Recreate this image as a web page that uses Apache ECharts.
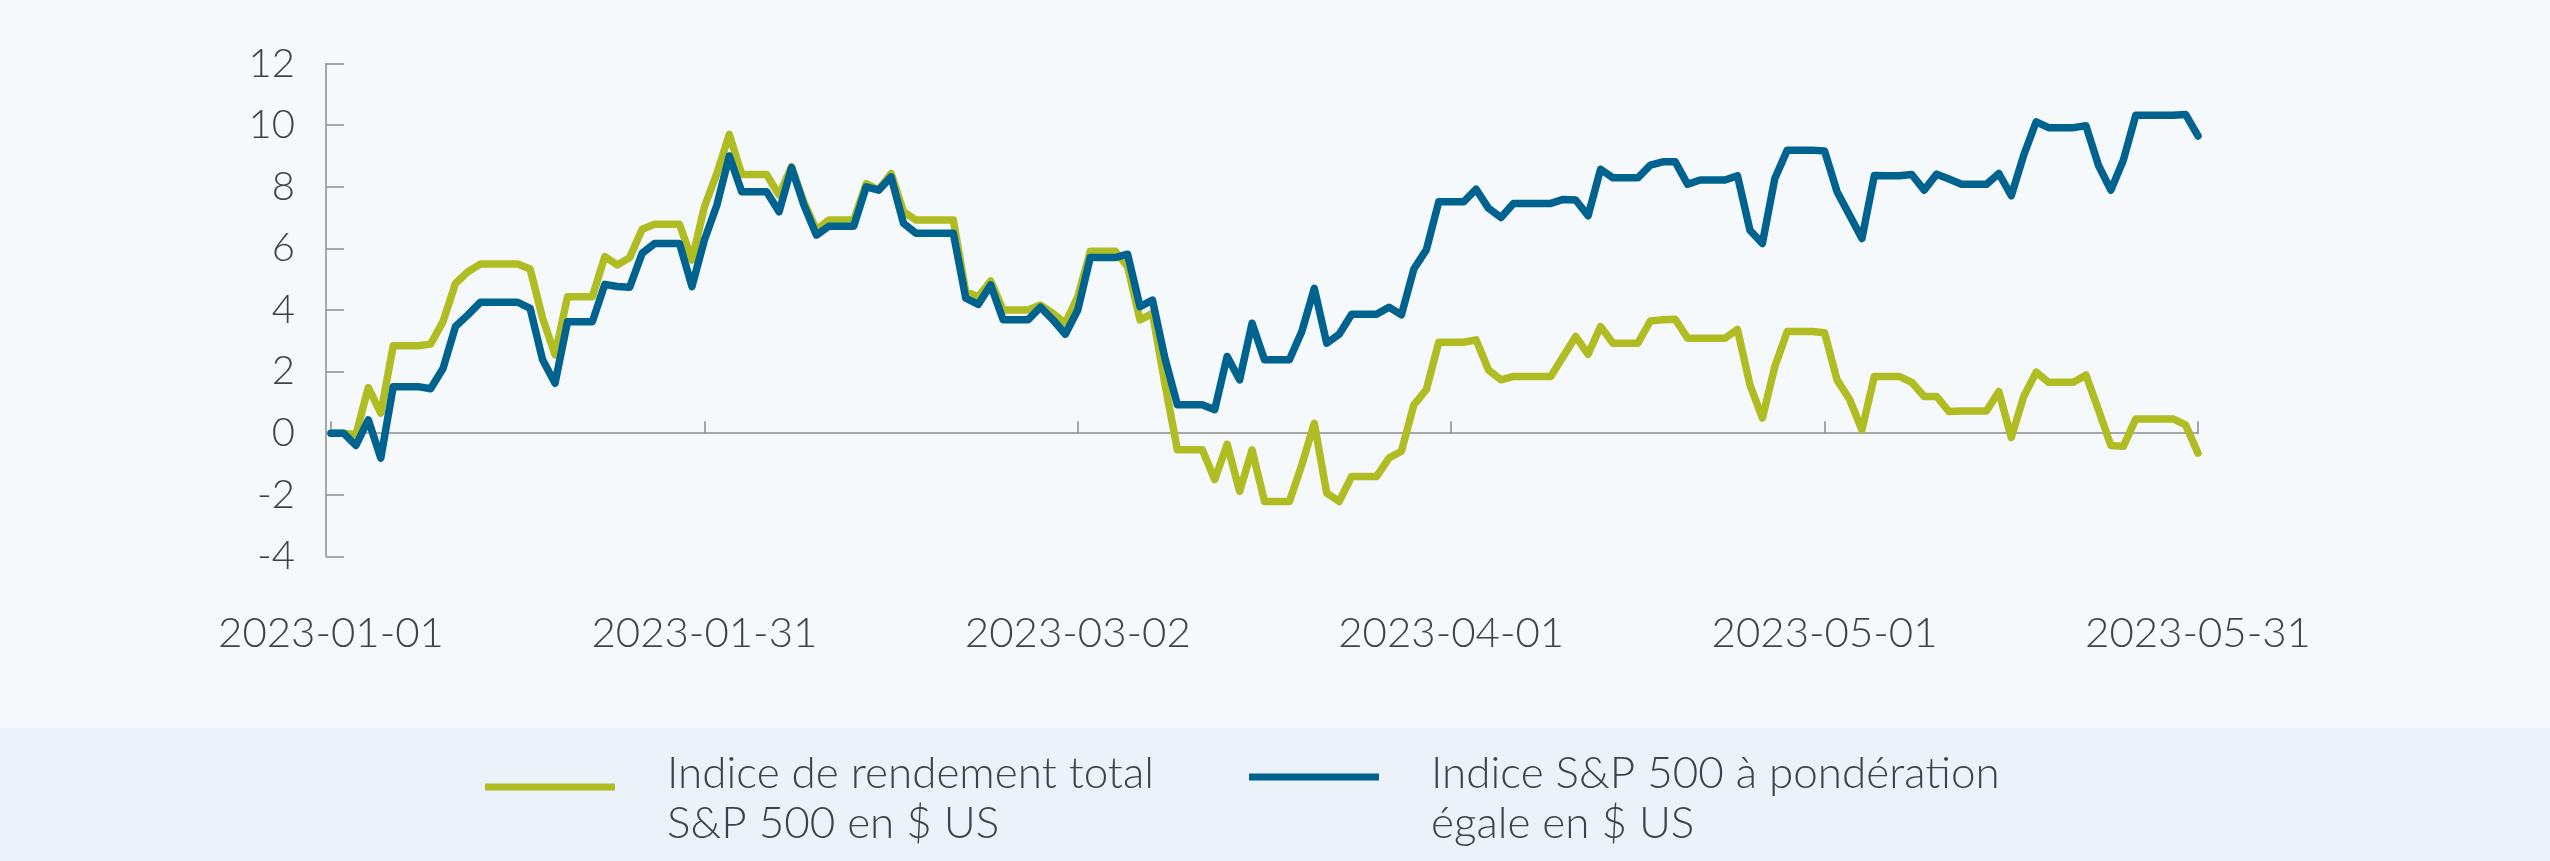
<!DOCTYPE html>
<html>
<head>
<meta charset="utf-8">
<title>Indice S&P 500</title>
<script src="https://cdn.jsdelivr.net/npm/echarts@6/dist/echarts.min.js"></script>
<style>
  html, body { margin: 0; padding: 0; background: #f5f9fc; }
  #chart { width: 2550px; height: 861px; }
</style>
</head>
<body>
<div id="chart"></div>
<script>
/* daily values, 2023-01-01 .. 2023-05-31 (weekends carry the last close) */
const startDate = '2023-01-01';
const dayCount = 151;

const totalReturnName = 'Indice de rendement total\nS&P 500 en $ US';
const equalWeightName = 'Indice S&P 500 à pondération\négale en $ US';

const totalReturn = [
  0, 0, -0.05, 1.48, 0.65, 2.84, 2.84, 2.84, 2.89, 3.62,
  4.86, 5.24, 5.49, 5.49, 5.49, 5.49, 5.33, 3.73, 2.54, 4.43,
  4.43, 4.43, 5.73, 5.46, 5.7, 6.62, 6.78, 6.78, 6.78, 5.62,
  7.35, 8.43, 9.7, 8.4, 8.4, 8.4, 7.73, 8.65, 7.5, 6.6,
  6.92, 6.92, 6.92, 8.1, 7.9, 8.43, 7.19, 6.92, 6.92, 6.92,
  6.92, 4.59, 4.43, 4.94, 4.0, 4.0, 4.0, 4.16, 3.89, 3.57,
  4.43, 5.91, 5.91, 5.91, 5.41, 3.68, 3.89, 1.6, -0.54, -0.54,
  -0.54, -1.51, -0.36, -1.89, -0.54, -2.22, -2.22, -2.22, -1.03, 0.32,
  -1.95, -2.22, -1.41, -1.41, -1.41, -0.81, -0.59, 0.92, 1.41, 2.95,
  2.95, 2.95, 3.03, 2.05, 1.73, 1.84, 1.84, 1.84, 1.84, 2.49,
  3.14, 2.56, 3.46, 2.92, 2.92, 2.92, 3.64, 3.68, 3.7, 3.08,
  3.08, 3.08, 3.08, 3.37, 1.57, 0.49, 2.16, 3.3, 3.3, 3.3,
  3.26, 1.73, 1.1, 0.11, 1.84, 1.84, 1.84, 1.65, 1.19, 1.19,
  0.7, 0.72, 0.72, 0.72, 1.35, -0.14, 1.19, 1.98, 1.65, 1.65,
  1.65, 1.89, 0.76, -0.4, -0.43, 0.46, 0.46, 0.46, 0.46, 0.27,
  -0.65
];

const equalWeight = [
  0, 0, -0.4, 0.43, -0.81, 1.51, 1.51, 1.51, 1.44, 2.1,
  3.46, 3.84, 4.25, 4.25, 4.25, 4.25, 4.05, 2.38, 1.62, 3.62,
  3.62, 3.62, 4.83, 4.76, 4.74, 5.84, 6.16, 6.16, 6.16, 4.76,
  6.27, 7.4, 9.0, 7.84, 7.84, 7.84, 7.19, 8.62, 7.4, 6.43,
  6.72, 6.72, 6.72, 8.0, 7.89, 8.32, 6.81, 6.49, 6.49, 6.49,
  6.49, 4.38, 4.18, 4.81, 3.68, 3.68, 3.68, 4.09, 3.68, 3.21,
  4.0, 5.7, 5.7, 5.7, 5.81, 4.11, 4.32, 2.43, 0.92, 0.92,
  0.92, 0.76, 2.49, 1.73, 3.57, 2.38, 2.38, 2.38, 3.3, 4.7,
  2.92, 3.21, 3.86, 3.86, 3.86, 4.09, 3.84, 5.33, 5.95, 7.51,
  7.51, 7.51, 7.92, 7.3, 7.0, 7.46, 7.46, 7.46, 7.46, 7.59,
  7.57, 7.06, 8.57, 8.29, 8.29, 8.29, 8.7, 8.81, 8.81, 8.08,
  8.22, 8.22, 8.22, 8.36, 6.59, 6.16, 8.27, 9.19, 9.19, 9.19,
  9.16, 7.84, 7.08, 6.32, 8.37, 8.36, 8.36, 8.4, 7.89, 8.41,
  8.25, 8.08, 8.08, 8.08, 8.43, 7.71, 9.03, 10.11, 9.92, 9.92,
  9.92, 9.98, 8.7, 7.89, 8.86, 10.32, 10.32, 10.32, 10.32, 10.35,
  9.65
];

const yMin = -4;
const yMax = 12;
const yStep = 2;
const labelEvery = 30;

const green = '#afbd22';
const blue = '#00638f';
const textColor = '#3d4349';
const axisColor = '#8c8c8c';

/* one category per calendar day */
let dates = [];
let d = new Date(startDate + 'T00:00:00Z');
for (let i = 0; i < dayCount; i++) {
  dates.push(d.toISOString().slice(0, 10));
  d.setUTCDate(d.getUTCDate() + 1);
}

let chart = echarts.init(document.getElementById('chart'), null, { renderer: 'canvas' });

let option = {
  animation: false,
  backgroundColor: '#f5f9fc',
  textStyle: { fontFamily: 'Lato, "Open Sans", sans-serif', fontWeight: 300 },
  graphic: [{
    type: 'rect',
    left: 0,
    top: 728,
    silent: true,
    z: -10,
    shape: { width: 2550, height: 133 },
    style: { fill: '#ebf2f9' }
  }],
  grid: {
    left: 331,
    right: 352,
    top: 63.6,
    bottom: 304.7
  },
  legend: [{
    left: 485,
    top: 749,
    padding: 0,
    itemWidth: 130,
    itemHeight: 31,
    icon: 'path://M0,0H130V7H0Z M0,31H0.01',
    itemStyle: { borderWidth: 0 },
    data: [totalReturnName],
    textStyle: { color: textColor, fontSize: 44, fontWeight: 300, lineHeight: 50, padding: [0, 0, 0, 47] }
  }, {
    left: 1249,
    top: 749,
    padding: 0,
    itemWidth: 130,
    itemHeight: 51,
    icon: 'path://M0,0H130V7H0Z M0,51H0.01',
    itemStyle: { borderWidth: 0 },
    data: [equalWeightName],
    textStyle: { color: textColor, fontSize: 44, fontWeight: 300, lineHeight: 50, padding: [0, 0, 0, 47] }
  }],
  xAxis: [{
    // labels along the bottom
    type: 'category',
    data: dates,
    boundaryGap: false,
    position: 'bottom',
    axisLine: { show: false, onZero: false },
    axisTick: { show: false },
    splitLine: { show: false },
    axisLabel: {
      interval: labelEvery - 1,
      color: textColor,
      fontSize: 42,
      fontWeight: 300,
      margin: 56
    }
  }, {
    // zero line with its ticks
    type: 'category',
    data: dates,
    boundaryGap: false,
    position: 'top',
    axisLine: { onZero: true, lineStyle: { color: axisColor, width: 1.5 } },
    axisTick: { interval: labelEvery - 1, inside: false, length: 12, lineStyle: { color: axisColor, width: 1.5 } },
    axisLabel: { show: false },
    splitLine: { show: false }
  }],
  yAxis: {
    type: 'value',
    min: yMin,
    max: yMax,
    interval: yStep,
    offset: 5,
    axisLine: { show: true, lineStyle: { color: axisColor, width: 1.5 } },
    axisTick: { show: true, inside: true, length: 18, lineStyle: { color: axisColor, width: 1.5 } },
    splitLine: { show: false },
    axisLabel: { color: textColor, fontSize: 40, fontWeight: 300, margin: 31 }
  },
  series: [{
    name: totalReturnName,
    type: 'line',
    xAxisIndex: 0,
    data: totalReturn,
    symbol: 'none',
    itemStyle: { color: green },
    lineStyle: { color: green, width: 7.5, cap: 'round', join: 'round' }
  }, {
    name: equalWeightName,
    type: 'line',
    xAxisIndex: 0,
    data: equalWeight,
    symbol: 'none',
    itemStyle: { color: blue },
    lineStyle: { color: blue, width: 7.5, cap: 'round', join: 'round' }
  }]
};

chart.setOption(option);
</script>
</body>
</html>
